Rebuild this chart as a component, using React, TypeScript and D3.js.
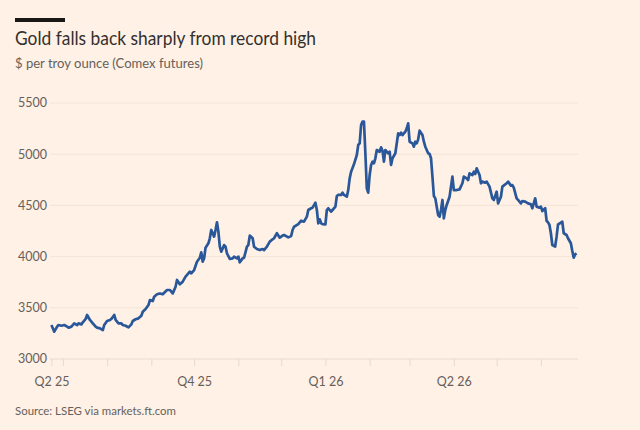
import React, { useEffect, useRef } from 'react';
import * as d3 from 'd3';

// Comex gold futures, $ per troy ounce
const dates = [
  '2025-06-23', '2025-06-25', '2025-06-27', '2025-06-28', '2025-06-30', '2025-07-02', '2025-07-04', '2025-07-05',
  '2025-07-07', '2025-07-09', '2025-07-11', '2025-07-12', '2025-07-14', '2025-07-15', '2025-07-17', '2025-07-18',
  '2025-07-20', '2025-07-22', '2025-07-24', '2025-07-25', '2025-07-27', '2025-07-29', '2025-07-30', '2025-08-01',
  '2025-08-03', '2025-08-04', '2025-08-06', '2025-08-07', '2025-08-09', '2025-08-11', '2025-08-12', '2025-08-14',
  '2025-08-16', '2025-08-18', '2025-08-19', '2025-08-21', '2025-08-23', '2025-08-25', '2025-08-26', '2025-08-28',
  '2025-08-30', '2025-08-31', '2025-09-02', '2025-09-03', '2025-09-05', '2025-09-07', '2025-09-09', '2025-09-12',
  '2025-09-14', '2025-09-16', '2025-09-18', '2025-09-19', '2025-09-21', '2025-09-23', '2025-09-25', '2025-09-28',
  '2025-09-29', '2025-10-01', '2025-10-03', '2025-10-05', '2025-10-06', '2025-10-07', '2025-10-08', '2025-10-09',
  '2025-10-11', '2025-10-12', '2025-10-13', '2025-10-15', '2025-10-16', '2025-10-17', '2025-10-18', '2025-10-19',
  '2025-10-20', '2025-10-22', '2025-10-23', '2025-10-24', '2025-10-26', '2025-10-28', '2025-10-29', '2025-10-31',
  '2025-11-01', '2025-11-02', '2025-11-04', '2025-11-05', '2025-11-07', '2025-11-08', '2025-11-09', '2025-11-11',
  '2025-11-12', '2025-11-14', '2025-11-16', '2025-11-18', '2025-11-19', '2025-11-21', '2025-11-23', '2025-11-25',
  '2025-11-26', '2025-11-28', '2025-11-30', '2025-12-02', '2025-12-03', '2025-12-06', '2025-12-08', '2025-12-09',
  '2025-12-10', '2025-12-11', '2025-12-13', '2025-12-15', '2025-12-17', '2025-12-19', '2025-12-20', '2025-12-22',
  '2025-12-23', '2025-12-25', '2025-12-26', '2025-12-27', '2025-12-28', '2025-12-29', '2025-12-30', '2026-01-01',
  '2026-01-02', '2026-01-03', '2026-01-05', '2026-01-06', '2026-01-08', '2026-01-09', '2026-01-10', '2026-01-12',
  '2026-01-13', '2026-01-14', '2026-01-16', '2026-01-17', '2026-01-18', '2026-01-19', '2026-01-21', '2026-01-23',
  '2026-01-24', '2026-01-25', '2026-01-26', '2026-01-27', '2026-01-28', '2026-01-29', '2026-01-30', '2026-01-31',
  '2026-02-01', '2026-02-02', '2026-02-03', '2026-02-04', '2026-02-05', '2026-02-06', '2026-02-08', '2026-02-09',
  '2026-02-10', '2026-02-11', '2026-02-12', '2026-02-14', '2026-02-15', '2026-02-16', '2026-02-17', '2026-02-19',
  '2026-02-21', '2026-02-22', '2026-02-23', '2026-02-24', '2026-02-26', '2026-02-27', '2026-02-28', '2026-03-01',
  '2026-03-03', '2026-03-04', '2026-03-05', '2026-03-06', '2026-03-07', '2026-03-08', '2026-03-10', '2026-03-11',
  '2026-03-12', '2026-03-14', '2026-03-15', '2026-03-16', '2026-03-17', '2026-03-18', '2026-03-19', '2026-03-21',
  '2026-03-22', '2026-03-23', '2026-03-24', '2026-03-25', '2026-03-26', '2026-03-27', '2026-03-29', '2026-03-30',
  '2026-03-31', '2026-04-01', '2026-04-03', '2026-04-05', '2026-04-07', '2026-04-08', '2026-04-10', '2026-04-11',
  '2026-04-12', '2026-04-14', '2026-04-15', '2026-04-16', '2026-04-17', '2026-04-19', '2026-04-20', '2026-04-21',
  '2026-04-23', '2026-04-24', '2026-04-26', '2026-04-28', '2026-04-29', '2026-05-01', '2026-05-02', '2026-05-04',
  '2026-05-05', '2026-05-08', '2026-05-09', '2026-05-11', '2026-05-12', '2026-05-13', '2026-05-15', '2026-05-16',
  '2026-05-18', '2026-05-19', '2026-05-21', '2026-05-23', '2026-05-25', '2026-05-26', '2026-05-27', '2026-05-28',
  '2026-05-29', '2026-05-31', '2026-06-01', '2026-06-02', '2026-06-04', '2026-06-05', '2026-06-06', '2026-06-07',
  '2026-06-08', '2026-06-09', '2026-06-11', '2026-06-12', '2026-06-13', '2026-06-15', '2026-06-16', '2026-06-17',
  '2026-06-19', '2026-06-20', '2026-06-22', '2026-06-23', '2026-06-24', '2026-06-25', '2026-06-26',
];

const prices = [
  3332, 3267, 3316, 3332, 3325, 3332, 3316, 3306,
  3316, 3348, 3332, 3348, 3338, 3358, 3391, 3430,
  3381, 3348, 3316, 3306, 3299, 3283, 3332, 3371,
  3381, 3391, 3430, 3381, 3348, 3348, 3332, 3325,
  3309, 3338, 3371, 3388, 3397, 3423, 3462, 3488,
  3527, 3576, 3566, 3608, 3632, 3640, 3632, 3674,
  3674, 3641, 3706, 3772, 3729, 3755, 3804, 3853,
  3837, 3869, 3950, 3989, 4042, 3950, 3983, 4087,
  4130, 4179, 4260, 4195, 4260, 4335, 4244, 4097,
  4048, 4113, 4097, 4032, 3977, 3983, 4000, 3983,
  4000, 3944, 3983, 3989, 4097, 4113, 4205, 4179,
  4097, 4074, 4064, 4074, 4064, 4097, 4146, 4169,
  4179, 4228, 4185, 4205, 4211, 4188, 4201, 4260,
  4292, 4299, 4318, 4351, 4341, 4390, 4455, 4472,
  4478, 4527, 4455, 4325, 4364, 4325, 4318, 4315,
  4455, 4472, 4439, 4455, 4488, 4592, 4602, 4602,
  4625, 4602, 4585, 4650, 4764, 4829, 4901, 4992,
  5090, 5106, 5285, 5318, 5318, 5009, 4667, 4625,
  4797, 4895, 4927, 4911, 4960, 5041, 5024, 5067,
  5034, 4927, 5041, 5009, 5024, 4895, 4960, 5009,
  5204, 5187, 5210, 5187, 5220, 5253, 5301, 5122,
  5106, 5073, 5122, 5106, 5145, 5230, 5187, 5122,
  5073, 5009, 5002, 4960, 4781, 4592, 4569, 4406,
  4390, 4455, 4553, 4374, 4455, 4504, 4585, 4683,
  4781, 4650, 4650, 4657, 4716, 4781, 4764, 4748,
  4813, 4797, 4829, 4807, 4862, 4797, 4716, 4732,
  4722, 4732, 4683, 4569, 4553, 4634, 4520, 4585,
  4683, 4716, 4732, 4693, 4699, 4673, 4569, 4553,
  4520, 4543, 4537, 4520, 4511, 4472, 4520, 4569,
  4488, 4478, 4488, 4445, 4472, 4348, 4335, 4309,
  4228, 4113, 4097, 4195, 4315, 4331, 4341, 4228,
  4211, 4179, 4130, 4055, 3989, 4022, 4032,
];

const yTicks = [3000, 3500, 4000, 4500, 5000, 5500];
const quarterDates = ['2025-06-23', '2025-10-01', '2026-01-01', '2026-04-01'];
const quarterLabels = ['Q2 25', 'Q4 25', 'Q1 26', 'Q2 26'];
const domainDates = ['2025-06-22', '2026-06-27'];

const BG = '#FFF1E5';
const LINE = '#2A5799';
const MUTED = '#66605C';
const FONT = 'Lato, "Open Sans", sans-serif';

function GoldChart() {
  const svgRef = useRef(null);

  useEffect(() => {
    const width = 640;
    const height = 430;
    const parse = d3.timeParse('%Y-%m-%d');
    const series = dates.map((d, i) => ({ date: parse(d), value: prices[i] }));

    const svg = d3.select(svgRef.current);
    svg.selectAll('*').remove();
    svg.attr('width', width).attr('height', height);

    svg.append('rect').attr('width', width).attr('height', height).attr('fill', BG);

    const x = d3.scaleTime()
      .domain(domainDates.map(parse))
      .range([50, 578]);

    const y = d3.scaleLinear()
      .domain([3000, 5500])
      .range([359, 103]);

    // header, squeezed a little to the narrow newspaper face
    svg.append('rect').attr('x', 15).attr('y', 18).attr('width', 50).attr('height', 4).attr('fill', '#1a1817');
    svg.append('text')
      .attr('x', 15).attr('y', 45)
      .attr('font-family', FONT).attr('font-size', 19).attr('fill', '#33302E')
      .attr('textLength', 301).attr('lengthAdjust', 'spacingAndGlyphs')
      .text('Gold falls back sharply from record high');
    svg.append('text')
      .attr('x', 15).attr('y', 68)
      .attr('font-family', FONT).attr('font-size', 13.5).attr('fill', MUTED)
      .attr('textLength', 188).attr('lengthAdjust', 'spacingAndGlyphs')
      .text('$ per troy ounce (Comex futures)');

    // horizontal gridlines + y labels
    const grid = svg.append('g');
    grid.selectAll('line')
      .data(yTicks)
      .join('line')
      .attr('x1', 50).attr('x2', 578)
      .attr('y1', d => y(d)).attr('y2', d => y(d))
      .attr('stroke', d => (d === 3000 ? '#EADBCD' : '#F3E4D7'))
      .attr('stroke-width', 1);
    grid.selectAll('text')
      .data(yTicks)
      .join('text')
      .attr('x', 47).attr('y', d => y(d)).attr('dy', '0.35em')
      .attr('text-anchor', 'end')
      .attr('font-family', FONT).attr('font-size', 12.5).attr('fill', MUTED)
      .text(d => d);

    // month ticks along the bottom, quarter labels under them
    const start = x.domain()[0];
    const end = x.domain()[1];
    const tickDates = [parse(quarterDates[0]), ...d3.timeMonth.range(d3.timeMonth.ceil(start), end)];
    const labelFor = new Map(quarterDates.map((d, i) => [+parse(d), quarterLabels[i]]));

    const xAxis = svg.append('g')
      .attr('transform', `translate(0,${y(3000)})`)
      .call(d3.axisBottom(x)
        .tickValues(tickDates)
        .tickSize(7)
        .tickPadding(11)
        .tickFormat(d => labelFor.get(+d) || ''));
    xAxis.select('.domain').remove();
    xAxis.selectAll('line').attr('stroke', '#E8D9CC');
    xAxis.selectAll('text')
      .attr('font-family', FONT).attr('font-size', 12.5).attr('fill', MUTED);

    // price line
    const line = d3.line()
      .x(d => x(d.date))
      .y(d => y(d.value))
      .curve(d3.curveLinear);

    svg.append('path')
      .datum(series)
      .attr('d', line)
      .attr('fill', 'none')
      .attr('stroke', LINE)
      .attr('stroke-width', 2.7)
      .attr('stroke-linejoin', 'round');

    svg.append('text')
      .attr('x', 15).attr('y', 415)
      .attr('font-family', FONT).attr('font-size', 12).attr('fill', MUTED)
      .attr('textLength', 161).attr('lengthAdjust', 'spacingAndGlyphs')
      .text('Source: LSEG via markets.ft.com');
  }, []);

  return <svg ref={svgRef} style={{ position: 'absolute', left: 0, top: 0, display: 'block' }}></svg>;
}

export default function App() {
  return <GoldChart />;
}
